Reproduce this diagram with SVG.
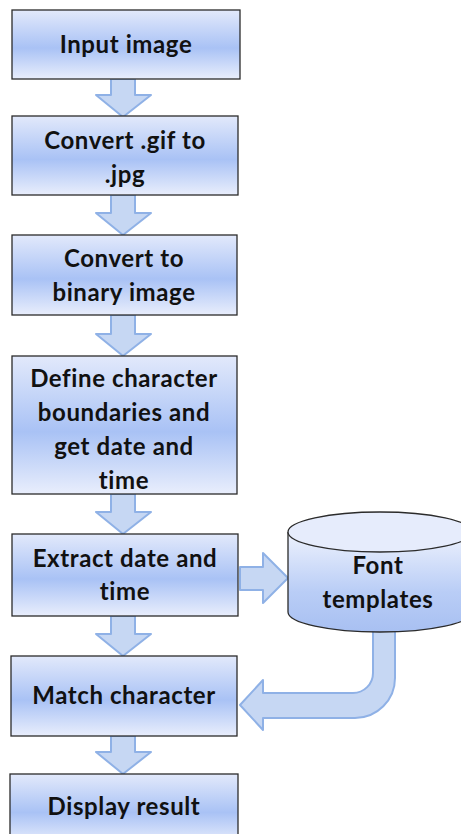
<svg xmlns="http://www.w3.org/2000/svg" width="461" height="834" viewBox="0 0 461 834">
<defs>
<linearGradient id="bg" x1="0" y1="0" x2="0" y2="1">
<stop offset="0" stop-color="#e2e9fb"/>
<stop offset="0.55" stop-color="#a9c2f5"/>
<stop offset="1" stop-color="#e9eefc"/>
</linearGradient>
<linearGradient id="cg" x1="0" y1="0" x2="0" y2="1">
<stop offset="0" stop-color="#eef2fd"/>
<stop offset="0.6" stop-color="#b9cdf6"/>
<stop offset="1" stop-color="#a8c0f2"/>
</linearGradient>
<style>
.box{fill:url(#bg);stroke:#2b2b2b;stroke-width:1.3}
.arr{fill:#c6d7f3;stroke:#8fb1e6;stroke-width:2;stroke-linejoin:round}
text{font-family:Lato,"Open Sans","Liberation Sans",sans-serif;font-weight:bold;font-size:24px;letter-spacing:0.6px;fill:#111;text-anchor:middle}
</style>
</defs>
<g id="connectors">
<path class="arr" d="M111,79 H135 V95 H151 L123,117 L96,95 H111 Z"/>
<path class="arr" d="M111,195 H135 V213 H151 L123,235 L96,213 H111 Z"/>
<path class="arr" d="M111,315 H135 V334 H151 L123,356 L96,334 H111 Z"/>
<path class="arr" d="M111,494 H135 V512 H151 L123,534 L96,512 H111 Z"/>
<path class="arr" d="M111,616 H135 V634 H151 L123,656 L96,634 H111 Z"/>
<path class="arr" d="M111,736 H135 V752 H151 L123,774 L96,752 H111 Z"/>
<path class="arr" d="M240,567 H263 V553 L288,578 L263,603 V590 H240 Z"/>
<path class="arr" d="M373,625 H395 V678 A40,40 0 0 1 355,718 H263 V730 L240,705 L263,680 V693 H353 A20,20 0 0 0 373,673 Z"/>
</g>
<g id="n1"><rect class="box" x="12" y="10" width="228" height="69"/><text x="126" y="53">Input image</text></g>
<g id="n2"><rect class="box" x="12" y="116" width="226" height="79"/><text x="125" y="149">Convert .gif to</text><text x="125" y="183">.jpg</text></g>
<g id="n3"><rect class="box" x="12" y="235" width="225" height="80"/><text x="124" y="267">Convert to</text><text x="124" y="301">binary image</text></g>
<g id="n4"><rect class="box" x="12" y="356" width="225" height="138"/><text x="124" y="387">Define character</text><text x="124" y="421">boundaries and</text><text x="124" y="455">get date and</text><text x="124" y="489">time</text></g>
<g id="n5"><rect class="box" x="12" y="534" width="226" height="82"/><text x="125" y="567">Extract date and</text><text x="125" y="600">time</text></g>
<g id="n6"><rect class="box" x="11" y="656" width="226" height="80"/><text x="124" y="704">Match character</text></g>
<g id="n7"><rect class="box" x="10" y="774" width="228" height="70"/><text x="124" y="815">Display result</text></g>
<g id="n8">
<path d="M288,532 V612 A92,20 0 0 0 472,612 V532" fill="url(#cg)" stroke="#2b2b2b" stroke-width="1.3"/>
<ellipse cx="380" cy="532" rx="92" ry="20" fill="#e6ecfc" stroke="#2b2b2b" stroke-width="1.3"/>
<text x="378" y="574">Font</text><text x="378" y="608">templates</text>
</g>
</svg>
